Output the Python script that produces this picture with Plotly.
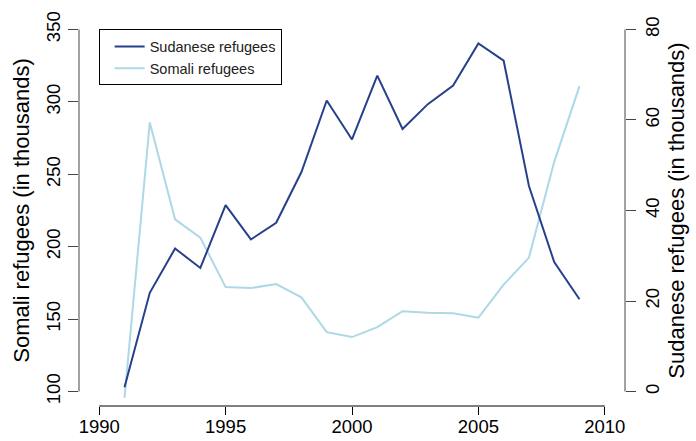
import plotly.graph_objects as go

years = list(range(1991, 2010))
sudanese = [0.96, 21.8, 31.6, 27.3, 41.2, 33.6, 37.3, 48.5, 64.3, 55.7,
            69.8, 58.0, 63.5, 67.6, 76.9, 73.1, 45.4, 28.6, 20.4]
somali = [95.6, 285.8, 218.9, 206.3, 172.1, 171.4, 174.2, 165.0, 141.0, 137.6,
          144.5, 155.5, 154.4, 154.1, 151.0, 173.8, 192.5, 258.6, 310.9]

x_ticks = [1990, 1995, 2000, 2005, 2010]
left_ticks = [100, 150, 200, 250, 300, 350]
right_ticks = [0, 20, 40, 60, 80]

DARK = "#27408B"
LIGHT = "#ADD8E6"
FONT = "Liberation Sans, Arial, sans-serif"

fig = go.Figure()
fig.add_trace(go.Scatter(x=years, y=sudanese, yaxis="y2", mode="lines",
                         name="Sudanese refugees",
                         line=dict(color=DARK, width=2)))
fig.add_trace(go.Scatter(x=years, y=somali, yaxis="y", mode="lines",
                         name="Somali refugees",
                         line=dict(color=LIGHT, width=2)))

fig.update_layout(
    width=696, height=441,
    margin=dict(l=79, r=71, t=15, b=35),
    plot_bgcolor="white", paper_bgcolor="white",
    font=dict(family=FONT, size=18.5, color="black"),
    xaxis=dict(range=[1989.2, 2010.8], tickvals=x_ticks, ticks="outside",
               ticklen=8, tickcolor="black", showgrid=False, zeroline=False,
               showline=False, ticklabelstandoff=-4, automargin=False),
    yaxis=dict(range=[90, 360], tickvals=left_ticks, ticks="outside",
               ticklen=10, tickcolor="#444", tickangle=-90, showgrid=False,
               zeroline=False, showline=False, ticklabelstandoff=1,
               automargin=False,
               title=dict(text="Somali refugees (in thousands)", standoff=6)),
    yaxis2=dict(range=[-3.2, 83.2], tickvals=right_ticks, ticks="outside",
                ticklen=10, tickcolor="#444", tickangle=-90, showgrid=False,
                zeroline=False, showline=False, overlaying="y", side="right",
                ticklabelstandoff=1, automargin=False,
                title=dict(text="Sudanese refugees (in thousands)", standoff=6)),
    legend=dict(x=0.036, y=0.963, xanchor="left", yanchor="top",
                bordercolor="black", borderwidth=1, bgcolor="white",
                indentation=10,
                font=dict(size=14.5, color="#222")),
    showlegend=True,
)

fig.add_shape(type="line", xref="paper", yref="y", x0=0, x1=0, y0=100, y1=350,
              line=dict(color="#444", width=1))
fig.add_shape(type="line", xref="paper", yref="y2", x0=1, x1=1, y0=0, y1=80,
              line=dict(color="#444", width=1))
fig.add_shape(type="line", xref="x", yref="paper", x0=1990, x1=2010, y0=0, y1=0,
              line=dict(color="black", width=1))

fig.write_html("out.html")
